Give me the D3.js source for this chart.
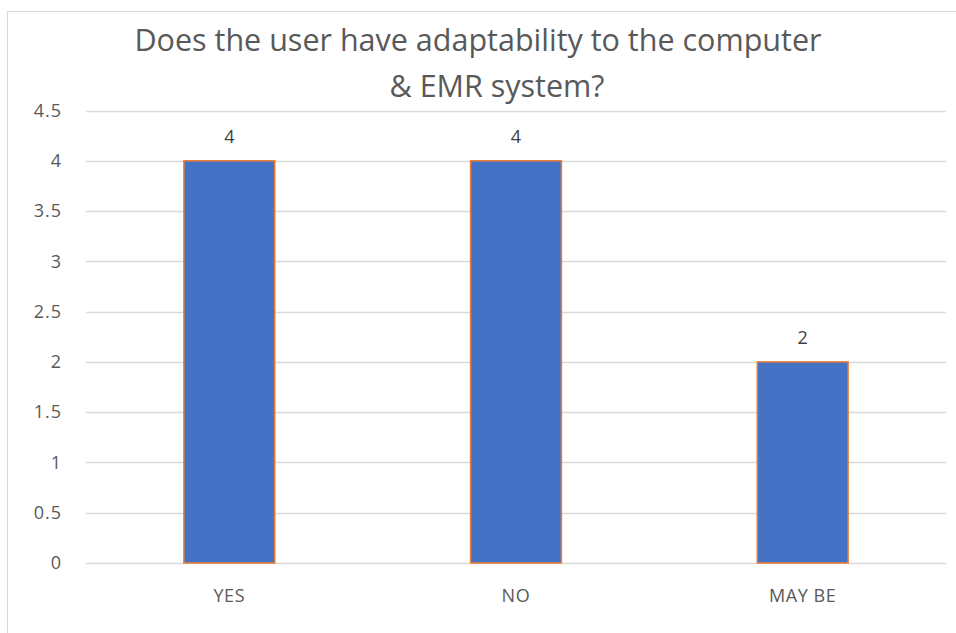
<!DOCTYPE html>
<html><head><meta charset="utf-8">
<script src="https://cdn.jsdelivr.net/npm/d3@7"></script>
<style>body{margin:0;background:#fff}svg{display:block}text{font-family:"Open Sans","Liberation Sans",sans-serif}</style>
</head><body><svg id="c" width="956" height="633"></svg>
<script>
const categories = ["YES", "NO", "MAY BE"];
const values = [4, 4, 2];
const yTicks = [0, 0.5, 1, 1.5, 2, 2.5, 3, 3.5, 4, 4.5];
const titleLines = ["Does the user have adaptability to the computer", "& EMR system?"];

const svg = d3.select("#c");
// chart border
svg.append("rect").attr("x", 7.5).attr("y", 11.5).attr("width", 960).attr("height", 640)
  .attr("fill", "#fff").attr("stroke", "#d9d9d9").attr("stroke-width", 1);

const m = {left: 86, right: 946, top: 110.5, bottom: 563};
const x = d3.scaleBand().domain(categories).range([m.left, m.right]).paddingInner(0.683).paddingOuter(0.3415);
const y = d3.scaleLinear().domain([0, 4.5]).range([m.bottom, m.top]);

// gridlines
svg.append("g").selectAll("line").data(yTicks).join("line")
  .attr("x1", m.left).attr("x2", m.right)
  .attr("y1", d => Math.round(y(d)) + 0.5).attr("y2", d => Math.round(y(d)) + 0.5)
  .attr("stroke", "#d9d9d9").attr("stroke-width", 1.3);

// y labels
svg.append("g").selectAll("text").data(yTicks).join("text")
  .attr("x", 62).attr("y", d => y(d)).attr("dy", "0.35em").attr("text-anchor", "end")
  .attr("font-size", 18).attr("letter-spacing", 1).attr("fill", "#595959").text(d => d);

// bars
svg.append("g").selectAll("rect").data(values).join("rect")
  .attr("x", (d, i) => x(categories[i])).attr("width", x.bandwidth())
  .attr("y", d => y(d)).attr("height", d => y(0) - y(d))
  .attr("fill", "#4472C4").attr("stroke", "#ED7D31").attr("stroke-width", 1.5);

// data labels
svg.append("g").selectAll("text").data(values).join("text")
  .attr("x", (d, i) => x(categories[i]) + x.bandwidth() / 2).attr("y", d => y(d) - 18)
  .attr("text-anchor", "middle").attr("font-size", 18).attr("fill", "#404040").text(d => d);

// category labels
svg.append("g").selectAll("text").data(categories).join("text")
  .attr("x", d => x(d) + x.bandwidth() / 2).attr("y", 602)
  .attr("text-anchor", "middle").attr("font-size", 18).attr("letter-spacing", 0.6).attr("fill", "#595959").text(d => d);

// title
svg.append("g").selectAll("text").data(titleLines).join("text")
  .attr("x", (d, i) => i === 0 ? 478 : 497).attr("y", (d, i) => 51 + i * 46)
  .attr("text-anchor", "middle").attr("font-size", 30.5).attr("fill", "#595959").text(d => d);
</script></body></html>
